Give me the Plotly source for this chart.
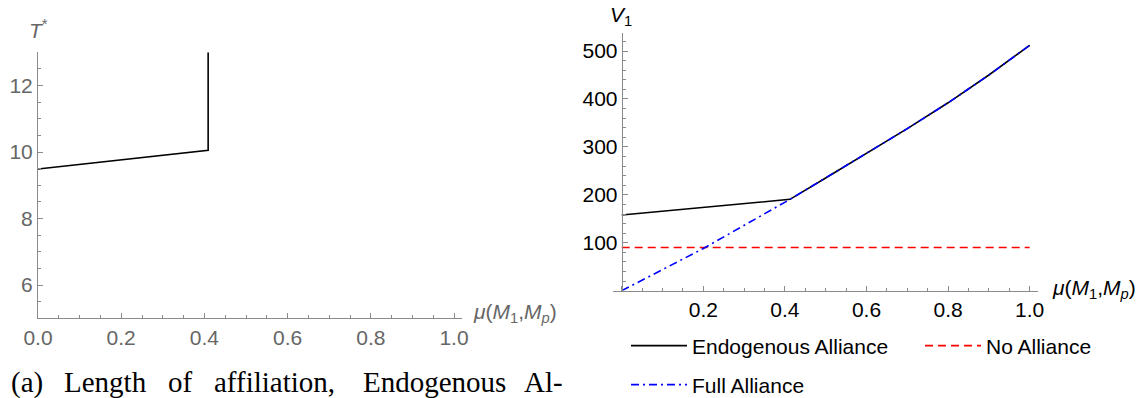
import plotly.graph_objects as go

# ---------------- data ----------------
# left panel: length of affiliation T* vs mu(M1,Mp)
aff_mu = [0.0, 0.409, 0.409]
aff_T = [9.49, 10.05, 13.0]
left_xticks = [0.0, 0.2, 0.4, 0.6, 0.8, 1.0]
left_xtick_text = ["0.0", "0.2", "0.4", "0.6", "0.8", "1.0"]
left_yticks = [6, 8, 10, 12]

# right panel: V1 vs mu(M1,Mp)
mu_endo = [0.0, 0.4125, 0.5, 0.6, 0.7, 0.8, 0.9, 1.0]
v_endo = [158, 190.6, 235, 286, 338, 392, 450, 512]
mu_none = [0.0, 1.0]
v_none = [90, 90]
mu_full = [0.0, 0.2, 0.4125, 0.5, 0.6, 0.7, 0.8, 0.9, 1.0]
v_full = [0, 88, 190.6, 235, 286, 338, 392, 450, 512]
right_xticks = [0.0, 0.2, 0.4, 0.6, 0.8, 1.0]
right_xtick_text = ["", "0.2", "0.4", "0.6", "0.8", "1.0"]
right_yticks = [0, 100, 200, 300, 400, 500]
right_ytick_text = ["", "100", "200", "300", "400", "500"]

caption_words = ["(a)", "Length", "of", "affiliation,", "Endogenous", "Al-"]
caption_x_px = [9, 62, 166, 212, 361, 522]

# ---------------- layout helpers ----------------
W, H = 1143, 398


def px_x(p):
    return p / W


def px_y(p):
    return 1 - p / H


SANS = "Liberation Sans, Arial, sans-serif"
SERIF = "Liberation Serif, Times New Roman, serif"
AXIS_GRAY = "#8a8a8a"
LABEL_GRAY = "#666666"

fig = go.Figure()

fig.add_trace(go.Scatter(x=aff_mu, y=aff_T, mode="lines", xaxis="x", yaxis="y",
                         line=dict(color="black", width=1.6), showlegend=False))

fig.add_trace(go.Scatter(x=mu_endo, y=v_endo, mode="lines", xaxis="x2", yaxis="y2",
                         name="Endogenous Alliance", legend="legend",
                         line=dict(color="black", width=1.6)))
fig.add_trace(go.Scatter(x=mu_none, y=v_none, mode="lines", xaxis="x2", yaxis="y2",
                         name="No Alliance", legend="legend2",
                         line=dict(color="#ff0000", width=1.6, dash="8px,5px")))
fig.add_trace(go.Scatter(x=mu_full, y=v_full, mode="lines", xaxis="x2", yaxis="y2",
                         name="Full Alliance", legend="legend3",
                         line=dict(color="#0000ff", width=1.6, dash="8px,4px,2px,4px")))


def axis_common(label_color):
    return dict(showline=True, linecolor=AXIS_GRAY, linewidth=1,
                ticks="inside", ticklen=5, tickwidth=1, tickcolor=AXIS_GRAY,
                showgrid=False, zeroline=False, automargin=False,
                tickfont=dict(family=SANS, size=21, color=label_color))


# left panel axes
x1_dom = [px_x(38), px_x(461.7)]
y1_dom = [px_y(318.3), px_y(52.3)]
fig.update_layout(
    xaxis=dict(domain=x1_dom, range=[0, 1.0185], anchor="y",
               tickmode="array", tickvals=left_xticks, ticktext=left_xtick_text,
               minor=dict(tickmode="linear", tick0=0, dtick=0.05, ticks="inside",
                          ticklen=3, tickcolor=AXIS_GRAY, showgrid=False),
               **axis_common(LABEL_GRAY)),
    yaxis=dict(domain=y1_dom, range=[5, 13], anchor="x",
               tickmode="array", tickvals=left_yticks,
               minor=dict(tickmode="linear", tick0=5, dtick=0.5, ticks="inside",
                          ticklen=3, tickcolor=AXIS_GRAY, showgrid=False),
               **axis_common(LABEL_GRAY)),
)

# right panel axes
x2_dom = [px_x(612.7), px_x(1038)]
x2_range = [-0.02206, 1.0204]
y2_pos = x2_dom[0] + (0 - x2_range[0]) / (x2_range[1] - x2_range[0]) * (x2_dom[1] - x2_dom[0])
fig.update_layout(
    xaxis2=dict(domain=x2_dom, range=x2_range, anchor="y2",
                tickmode="array", tickvals=right_xticks, ticktext=right_xtick_text,
                minor=dict(tickmode="linear", tick0=0, dtick=0.05, ticks="inside",
                           ticklen=3, tickcolor=AXIS_GRAY, showgrid=False),
                **axis_common("black")),
    yaxis2=dict(domain=[px_y(290.7), px_y(33.3)], range=[0, 537], anchor="free",
                position=y2_pos,
                tickmode="array", tickvals=right_yticks, ticktext=right_ytick_text,
                minor=dict(tickmode="linear", tick0=0, dtick=20, ticks="inside",
                           ticklen=3, tickcolor=AXIS_GRAY, showgrid=False),
                **axis_common("black")),
)

annotations = [
    dict(text="<i>T</i><sup>*</sup>", x=px_x(38), y=px_y(29), xanchor="center", yanchor="middle",
         font=dict(family=SANS, size=21, color=LABEL_GRAY)),
    dict(text="<i>μ</i>(<i>M</i><sub>1</sub>,<i>M</i><sub><i>p</i></sub>)", x=px_x(471), y=px_y(313),
         xanchor="left", yanchor="middle", font=dict(family=SANS, size=21, color=LABEL_GRAY)),
    dict(text="<i>V</i><sub>1</sub>", x=px_x(621), y=px_y(16), xanchor="center", yanchor="middle",
         font=dict(family=SANS, size=21, color="black")),
    dict(text="<i>μ</i>(<i>M</i><sub>1</sub>,<i>M</i><sub><i>p</i></sub>)", x=px_x(1050), y=px_y(289),
         xanchor="left", yanchor="middle", font=dict(family=SANS, size=21, color="black")),
]
for word, xp in zip(caption_words, caption_x_px):
    annotations.append(dict(text=word, x=px_x(xp), y=px_y(382), xanchor="left", yanchor="middle",
                            font=dict(family=SERIF, size=29, color="black")))
for a in annotations:
    a.update(xref="paper", yref="paper", showarrow=False)

legend_font = dict(family=SANS, size=21, color="black")
leg_common = dict(orientation="h", xanchor="left", yanchor="middle", itemwidth=56,
                  font=legend_font, bgcolor="rgba(0,0,0,0)")
fig.update_layout(
    width=W, height=H, margin=dict(l=0, r=0, t=0, b=0, autoexpand=False),
    paper_bgcolor="white", plot_bgcolor="white",
    annotations=annotations,
    legend=dict(x=px_x(626), y=px_y(346), **leg_common),
    legend2=dict(x=px_x(920), y=px_y(346), **leg_common),
    legend3=dict(x=px_x(626), y=px_y(385), **leg_common),
)

fig.write_html("out.html")
